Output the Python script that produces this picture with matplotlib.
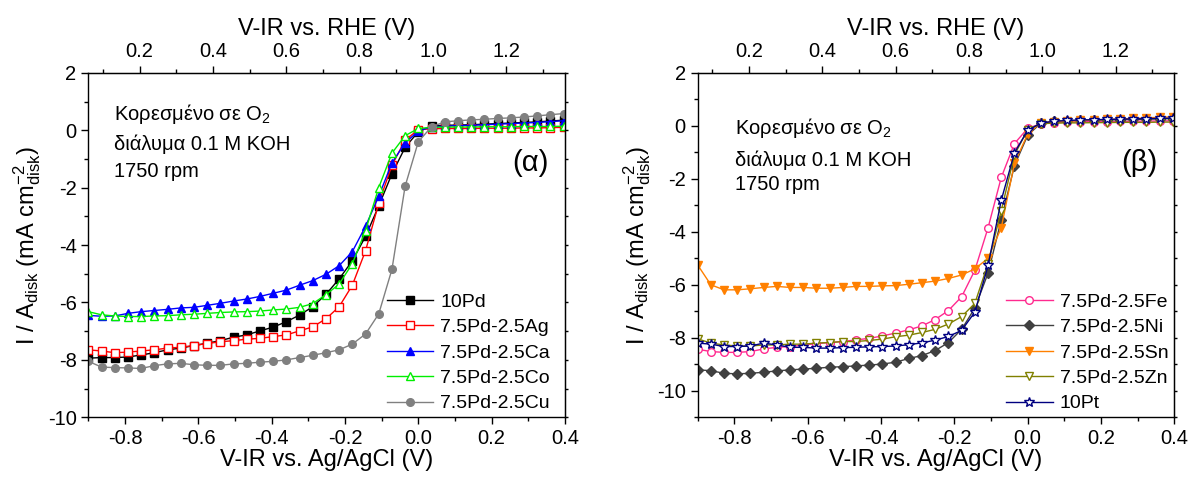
import matplotlib
matplotlib.use("Agg")
import matplotlib.pyplot as plt
from matplotlib.ticker import MultipleLocator, FixedLocator

plt.rcParams['font.family'] = ['Liberation Sans', 'DejaVu Sans']
plt.rcParams['mathtext.fontset'] = 'custom'
plt.rcParams['mathtext.rm'] = 'Liberation Sans'
plt.rcParams['mathtext.it'] = 'Liberation Sans:italic'
plt.rcParams['mathtext.bf'] = 'Liberation Sans:bold'
plt.rcParams['mathtext.default'] = 'regular'
plt.rcParams['axes.unicode_minus'] = False

# V-IR vs. Ag/AgCl (V), same sampling for every curve
v = [-0.900, -0.864, -0.828, -0.792, -0.756, -0.720, -0.684, -0.648, -0.612,
     -0.576, -0.540, -0.504, -0.468, -0.432, -0.396, -0.360, -0.324, -0.288,
     -0.252, -0.216, -0.180, -0.144, -0.108, -0.072, -0.036, 0.000, 0.036,
     0.072, 0.108, 0.144, 0.180, 0.216, 0.252, 0.288, 0.324, 0.360, 0.396]

# (α) Pd based catalysts, I / A_disk in mA cm-2
pd10 = [-7.94, -7.92, -7.92, -7.90, -7.83, -7.75, -7.65, -7.59, -7.50, -7.42,
        -7.33, -7.21, -7.13, -6.99, -6.86, -6.67, -6.44, -6.15, -5.72, -5.18,
        -4.55, -3.70, -2.64, -1.52, -0.60, -0.05, 0.15, 0.17, 0.18, 0.19,
        0.21, 0.23, 0.25, 0.27, 0.29, 0.32, 0.35]
pd_ag = [-7.65, -7.69, -7.75, -7.73, -7.69, -7.65, -7.59, -7.56, -7.50, -7.43,
         -7.37, -7.33, -7.28, -7.25, -7.19, -7.13, -6.99, -6.85, -6.57, -6.15,
         -5.40, -4.20, -2.55, -1.22, -0.35, 0.02, 0.05, 0.06, 0.06, 0.06,
         0.07, 0.07, 0.07, 0.08, 0.08, 0.09, 0.10]
pd_ca = [-6.45, -6.48, -6.47, -6.38, -6.32, -6.28, -6.24, -6.19, -6.17, -6.10,
         -6.03, -5.95, -5.88, -5.79, -5.68, -5.57, -5.40, -5.24, -5.02, -4.72,
         -4.23, -3.35, -2.30, -1.14, -0.44, -0.03, 0.12, 0.14, 0.16, 0.17,
         0.19, 0.21, 0.23, 0.25, 0.27, 0.30, 0.33]
pd_co = [-6.32, -6.43, -6.47, -6.49, -6.49, -6.47, -6.46, -6.43, -6.41, -6.38,
         -6.35, -6.33, -6.32, -6.30, -6.26, -6.23, -6.17, -6.04, -5.73, -5.36,
         -4.65, -3.50, -2.00, -0.80, -0.19, 0.06, 0.10, 0.11, 0.11, 0.11,
         0.12, 0.12, 0.12, 0.13, 0.13, 0.13, 0.14]
pd_cu = [-8.05, -8.25, -8.27, -8.28, -8.30, -8.20, -8.14, -8.12, -8.17, -8.19,
         -8.19, -8.14, -8.12, -8.08, -8.05, -8.00, -7.92, -7.84, -7.75, -7.65,
         -7.45, -7.10, -6.40, -4.85, -1.95, -0.40, 0.12, 0.29, 0.33, 0.36,
         0.38, 0.41, 0.43, 0.46, 0.50, 0.54, 0.58]

# (β)
pd_fe = [-8.43, -8.52, -8.55, -8.55, -8.52, -8.42, -8.36, -8.33, -8.27, -8.22,
         -8.18, -8.14, -8.08, -8.02, -7.93, -7.82, -7.70, -7.55, -7.31, -6.97,
         -6.45, -5.45, -3.85, -1.95, -0.67, -0.10, 0.08, 0.12, 0.14, 0.15,
         0.16, 0.16, 0.17, 0.17, 0.18, 0.18, 0.19]
pd_ni = [-9.21, -9.24, -9.34, -9.36, -9.34, -9.30, -9.25, -9.21, -9.18, -9.15,
         -9.11, -9.09, -9.06, -9.03, -8.99, -8.92, -8.78, -8.67, -8.48, -8.18,
         -7.68, -6.88, -5.56, -3.55, -1.50, -0.36, 0.10, 0.17, 0.19, 0.20,
         0.21, 0.22, 0.23, 0.24, 0.25, 0.26, 0.27]
pd_sn = [-5.25, -6.00, -6.19, -6.19, -6.15, -6.10, -6.06, -6.10, -6.10, -6.13,
         -6.13, -6.10, -6.06, -6.06, -6.04, -6.03, -5.98, -5.92, -5.86, -5.76,
         -5.63, -5.40, -5.00, -3.85, -1.41, -0.31, 0.12, 0.15, 0.18, 0.20,
         0.22, 0.24, 0.26, 0.28, 0.30, 0.32, 0.34]
pd_zn = [-8.04, -8.20, -8.27, -8.31, -8.31, -8.27, -8.27, -8.24, -8.24, -8.20,
         -8.18, -8.14, -8.14, -8.10, -8.05, -7.96, -7.90, -7.80, -7.68, -7.48,
         -7.20, -6.70, -5.20, -3.20, -1.10, -0.15, 0.08, 0.10, 0.11, 0.11,
         0.12, 0.12, 0.13, 0.13, 0.13, 0.14, 0.14]
pt10 = [-8.20, -8.24, -8.33, -8.33, -8.31, -8.20, -8.27, -8.36, -8.36, -8.39,
        -8.39, -8.37, -8.36, -8.34, -8.33, -8.31, -8.26, -8.19, -8.09, -7.95,
        -7.72, -7.03, -5.27, -2.81, -1.02, -0.17, 0.10, 0.17, 0.20, 0.22,
        0.23, 0.24, 0.25, 0.26, 0.27, 0.28, 0.29]

RHE_SHIFT = 0.96  # E(RHE) = E(Ag/AgCl) + 0.96 V
rhe_ticks = [0.2, 0.4, 0.6, 0.8, 1.0, 1.2]
rhe_minor = [0.1, 0.3, 0.5, 0.7, 0.9, 1.1, 1.3]

series_a = [
    ('10Pd', pd10, 's', 'black', 'black'),
    ('7.5Pd-2.5Ag', pd_ag, 's', 'red', 'white'),
    ('7.5Pd-2.5Ca', pd_ca, '^', 'blue', 'blue'),
    ('7.5Pd-2.5Co', pd_co, '^', '#00ee00', 'white'),
    ('7.5Pd-2.5Cu', pd_cu, 'o', 'gray', 'gray'),
]
series_b = [
    ('7.5Pd-2.5Fe', pd_fe, 'o', '#ff2a8f', 'white'),
    ('7.5Pd-2.5Ni', pd_ni, 'D', '#404040', '#404040'),
    ('7.5Pd-2.5Sn', pd_sn, 'v', '#ff8000', '#ff8000'),
    ('7.5Pd-2.5Zn', pd_zn, 'v', '#808000', 'white'),
    ('10Pt', pt10, '*', '#000080', 'white'),
]
marker_size = {'s': 5.5, '^': 5.5, 'o': 5.5, 'v': 5.5, 'D': 5.2, '*': 7.5}


def draw_panel(ax, series, ylow, tag, text_pos, leg_x):
    for name, cur, mk, col, face in series:
        ax.plot(v, cur, color=col, lw=1.0, marker=mk, ms=marker_size[mk],
                mfc=face, mec=col, mew=1.0, label=name)

    ax.set_xlim(-0.9, 0.4)
    ax.set_ylim(ylow, 2)
    ax.xaxis.set_major_locator(MultipleLocator(0.2))
    ax.xaxis.set_minor_locator(MultipleLocator(0.1))
    ax.yaxis.set_major_locator(MultipleLocator(2))
    ax.yaxis.set_minor_locator(MultipleLocator(1))
    ax.tick_params(which='both', direction='out', width=1.0, labelsize=14.5,
                   top=False, right=False)
    ax.tick_params(which='major', length=5)
    ax.tick_params(which='minor', length=3)
    for s in ax.spines.values():
        s.set_linewidth(1.0)

    top = ax.secondary_xaxis('top', functions=(lambda x: x + RHE_SHIFT,
                                               lambda x: x - RHE_SHIFT))
    top.xaxis.set_major_locator(FixedLocator(rhe_ticks))
    top.xaxis.set_minor_locator(FixedLocator(rhe_minor))
    top.tick_params(which='both', direction='out', width=1.0, labelsize=14.5)
    top.tick_params(which='major', length=5)
    top.tick_params(which='minor', length=3)
    top.set_xlabel('V-IR vs. RHE (V)', fontsize=17, labelpad=5)

    rgt = ax.secondary_yaxis('right')
    rgt.yaxis.set_major_locator(MultipleLocator(2))
    rgt.yaxis.set_minor_locator(MultipleLocator(1))
    rgt.tick_params(which='both', direction='out', length=2, width=1.0,
                    labelright=False)

    ax.set_xlabel('V-IR vs. Ag/AgCl (V)', fontsize=17, labelpad=1)
    ax.set_ylabel(r'I / A$_{disk}$ (mA cm$^{-2}_{disk}$)', fontsize=17,
                  labelpad=3)

    tx, ty = text_pos
    ax.text(tx, ty[0], 'Κορεσμένο σε O$_2$', transform=ax.transAxes,
            fontsize=14.5, va='baseline')
    ax.text(tx, ty[1], 'διάλυμα 0.1 M KOH', transform=ax.transAxes,
            fontsize=14.5, va='baseline')
    ax.text(tx, ty[2], '1750 rpm', transform=ax.transAxes,
            fontsize=14.5, va='baseline')
    ax.text(0.927, 0.738, tag, transform=ax.transAxes, fontsize=21,
            ha='center', va='center')

    ax.legend(loc='upper left', bbox_to_anchor=(leg_x, 0.36), frameon=False,
              fontsize=14, handlelength=2.4, handletextpad=0.35,
              labelspacing=0.4, borderpad=0, borderaxespad=0)


fig = plt.figure(figsize=(11.95, 4.78), dpi=100)
ax1 = fig.add_axes([0.0739, 0.127, 0.3989, 0.7207])
ax2 = fig.add_axes([0.5838, 0.127, 0.3989, 0.7207])

draw_panel(ax1, series_a, -10, '(α)', (0.054, (0.862, 0.775, 0.698)), 0.626)
draw_panel(ax2, series_b, -11, '(β)', (0.078, (0.821, 0.729, 0.659)), 0.647)

fig.savefig('out.png', dpi=100)
